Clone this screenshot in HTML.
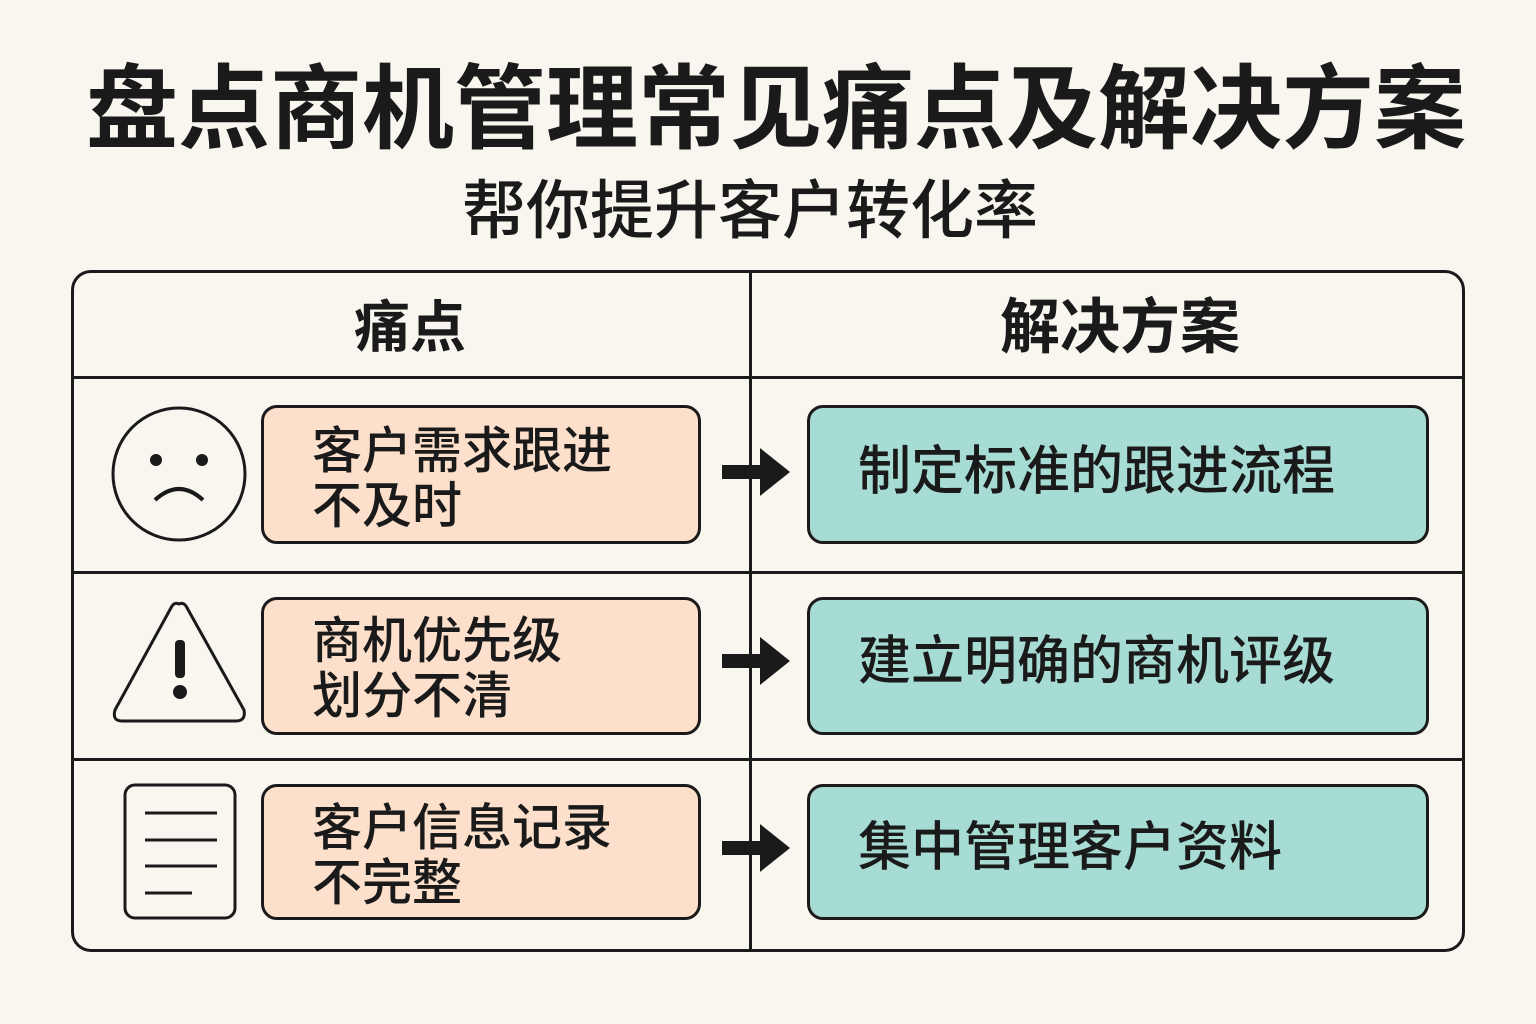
<!DOCTYPE html>
<html><head><meta charset="utf-8"><style>
body{margin:0;width:1536px;height:1024px;background:#f9f6f0;position:relative;overflow:hidden;font-family:"Liberation Sans","Noto Sans CJK SC",sans-serif;color:#1a1a1a}
.a{position:absolute}
.t{left:0;width:1536px;text-align:center}
.box{position:absolute;border:3px solid #1a1a1a;border-radius:16px;box-sizing:border-box}
.p{background:#fde0cb;left:261px;width:440px}
.g{background:#a6dcd3;left:807px;width:622px}
.pt{position:absolute;left:48px;font-size:50px;line-height:55px;font-weight:500;white-space:nowrap}
.gt{position:absolute;left:48px;font-size:53px;font-weight:500;white-space:nowrap;line-height:60px}
</style></head><body>
<div class="a t" style="top:54px;left:8px;font-size:92px;font-weight:700;line-height:112px">盘点商机管理常见痛点及解决方案</div>
<div class="a t" style="top:176px;left:-18px;font-size:64px;font-weight:500;line-height:70px">帮你提升客户转化率</div>
<div class="box" style="left:71px;top:270px;width:1394px;height:682px;border-radius:20px"></div>
<div class="a" style="left:749px;top:272px;width:3px;height:678px;background:#1a1a1a"></div>
<div class="a" style="left:72px;top:376px;width:1392px;height:3px;background:#1a1a1a"></div>
<div class="a" style="left:72px;top:571px;width:1392px;height:3px;background:#1a1a1a"></div>
<div class="a" style="left:72px;top:758px;width:1392px;height:3px;background:#1a1a1a"></div>
<div class="a" style="left:310px;width:200px;text-align:center;top:294px;font-size:56px;font-weight:700;line-height:68px">痛点</div>
<div class="a" style="left:900px;width:440px;text-align:center;top:294px;font-size:60px;font-weight:700;line-height:68px">解决方案</div>

<div class="box p" style="top:405px;height:139px"><div class="pt" style="top:16px">客户需求跟进<br>不及时</div></div>
<div class="box p" style="top:597px;height:138px"><div class="pt" style="top:14px">商机优先级<br>划分不清</div></div>
<div class="box p" style="top:784px;height:136px"><div class="pt" style="top:14px">客户信息记录<br>不完整</div></div>
<div class="box g" style="top:405px;height:139px"><div class="gt" style="top:34px">制定标准的跟进流程</div></div>
<div class="box g" style="top:597px;height:138px"><div class="gt" style="top:32px">建立明确的商机评级</div></div>
<div class="box g" style="top:784px;height:136px"><div class="gt" style="top:31px">集中管理客户资料</div></div>

<svg class="a" style="left:0;top:0" width="1536" height="1024">
<g stroke="#1a1a1a" stroke-width="3" fill="none">
<circle cx="179" cy="474" r="66"/>
<path d="M155 500 Q179 478 203 500" stroke-width="4"/>
<path d="M179 604 Q183 602 186 606 L244 710 Q246 721 236 721 L122 721 Q112 721 115 710 L172 606 Q175 602 179 604Z"/>
<rect x="125" y="785" width="110" height="133" rx="10"/>
<path d="M145 813H217M145 840H217M145 866H217M145 893H192" stroke-width="3"/>
</g>
<circle cx="156" cy="460" r="6" fill="#1a1a1a"/><circle cx="202" cy="460" r="6" fill="#1a1a1a"/>
<rect x="175" y="640" width="10" height="38" rx="4" fill="#1a1a1a"/><circle cx="180" cy="692" r="7" fill="#1a1a1a"/>
<g fill="#1a1a1a">
<path d="M722 465H760V448L790 472L760 496V479H722Z"/>
<path d="M722 654H760V637L790 661L760 685V668H722Z"/>
<path d="M722 841H760V824L790 848L760 872V855H722Z"/>
</g>
</svg>
</body></html>
